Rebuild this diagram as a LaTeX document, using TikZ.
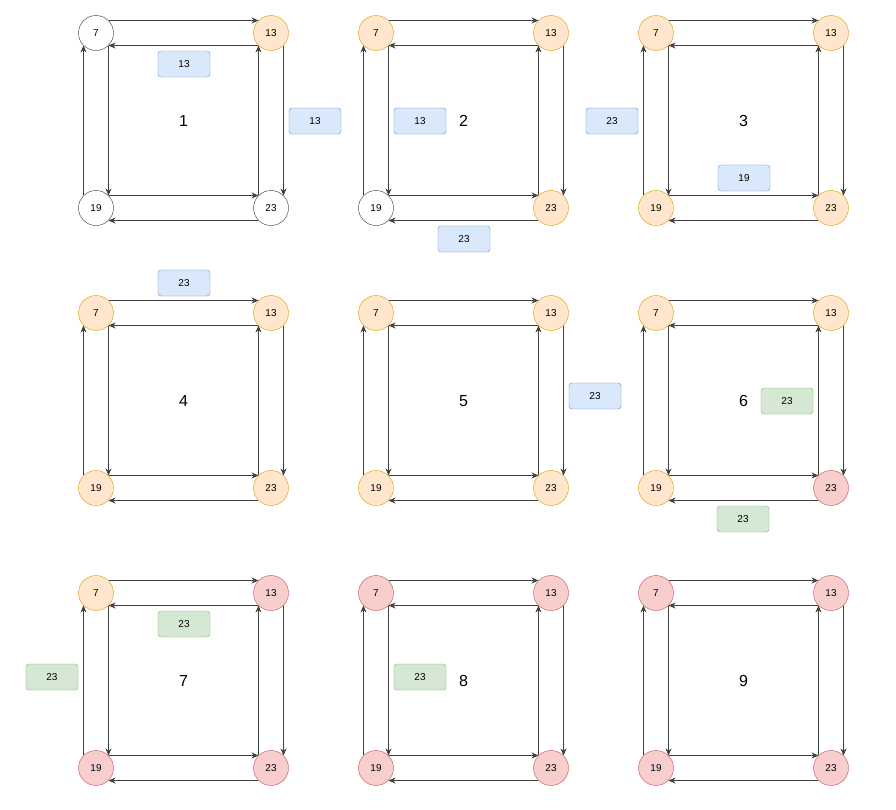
\documentclass[tikz,border=0pt]{standalone}
\usepackage{fontspec}
\setmainfont{Liberation Sans}
\usetikzlibrary{arrows.meta}

\definecolor{fresh}{HTML}{FFFFFF}
\definecolor{seenfill}{HTML}{FFE6CC}
\definecolor{seendraw}{HTML}{D79B00}
\definecolor{donefill}{HTML}{F8CECC}
\definecolor{donedraw}{HTML}{B85450}
\definecolor{bluefill}{HTML}{DAE8FC}
\definecolor{bluedraw}{HTML}{6C8EBF}
\definecolor{greenfill}{HTML}{D5E8D4}
\definecolor{greendraw}{HTML}{82B366}

\tikzset{
  vtx/.style={circle, draw=black!80, fill=fresh, minimum size=35pt, inner sep=0pt, font=\fontsize{10}{11}\selectfont},
  seen/.style={draw=seendraw, fill=seenfill},
  done/.style={draw=donedraw, fill=donefill},
  edge/.style={draw=black!75, line width=0.9pt, -{Stealth[length=7pt,width=6pt]}},
  panelno/.style={font=\fontsize{16}{18}\selectfont},
  msg/.style={rectangle, rounded corners=3pt, minimum width=52pt, minimum height=26pt, inner sep=0pt, font=\fontsize{10}{11}\selectfont},
  msgblue/.style={msg, draw=bluedraw, fill=bluefill},
  msggreen/.style={msg, draw=greendraw, fill=greenfill}
}

% one square: prefix, x, y of node 7, number, styles of 7, 13, 19, 23
\newcommand{\gridpanel}[8]{%
  \node[vtx,#5] (#1a) at (#2,#3) {7};
  \node[vtx,#6] (#1b) at (#2+175,#3) {13};
  \node[vtx,#7] (#1c) at (#2,#3+175) {19};
  \node[vtx,#8] (#1d) at (#2+175,#3+175) {23};
  \node[panelno] (#1n) at (#2+87.5,#3+88) {#4};
  \draw[edge] (#1a.45) -- (#1b.135);
  \draw[edge] (#1b.-135) -- (#1a.-45);
  \draw[edge] (#1c.135) -- (#1a.-135);
  \draw[edge] (#1a.-45) -- (#1c.45);
  \draw[edge] (#1b.-45) -- (#1d.45);
  \draw[edge] (#1d.135) -- (#1b.-135);
  \draw[edge] (#1c.45) -- (#1d.135);
  \draw[edge] (#1d.-135) -- (#1c.-45);
}

\begin{document}
\begin{tikzpicture}[x=1pt, y=-1pt]
\useasboundingbox (0,0) rectangle (896,809);

% first row
\gridpanel{p1}{96}{33}{1}{}{seen}{}{}
\gridpanel{p2}{376}{33}{2}{seen}{seen}{}{seen}
\gridpanel{p3}{656}{33}{3}{seen}{seen}{seen}{seen}

% second row
\gridpanel{p4}{96}{313}{4}{seen}{seen}{seen}{seen}
\gridpanel{p5}{376}{313}{5}{seen}{seen}{seen}{seen}
\gridpanel{p6}{656}{313}{6}{seen}{seen}{seen}{done}

% third row
\gridpanel{p7}{96}{593}{7}{seen}{done}{done}{done}
\gridpanel{p8}{376}{593}{8}{done}{done}{done}{done}
\gridpanel{p9}{656}{593}{9}{done}{done}{done}{done}

% messages
\node[msgblue] (m1a) at (184,64) {13};
\node[msgblue] (m1b) at (315,121) {13};
\node[msgblue] (m2a) at (420,121) {13};
\node[msgblue] (m2b) at (464,239) {23};
\node[msgblue] (m3a) at (612,121) {23};
\node[msgblue] (m3b) at (744,178) {19};
\node[msgblue] (m4a) at (184,283) {23};
\node[msgblue] (m5a) at (595,396) {23};
\node[msggreen] (m6a) at (787,401) {23};
\node[msggreen] (m6b) at (743,519) {23};
\node[msggreen] (m7a) at (184,624) {23};
\node[msggreen] (m7b) at (52,677) {23};
\node[msggreen] (m8a) at (420,677) {23};
\end{tikzpicture}
\end{document}
